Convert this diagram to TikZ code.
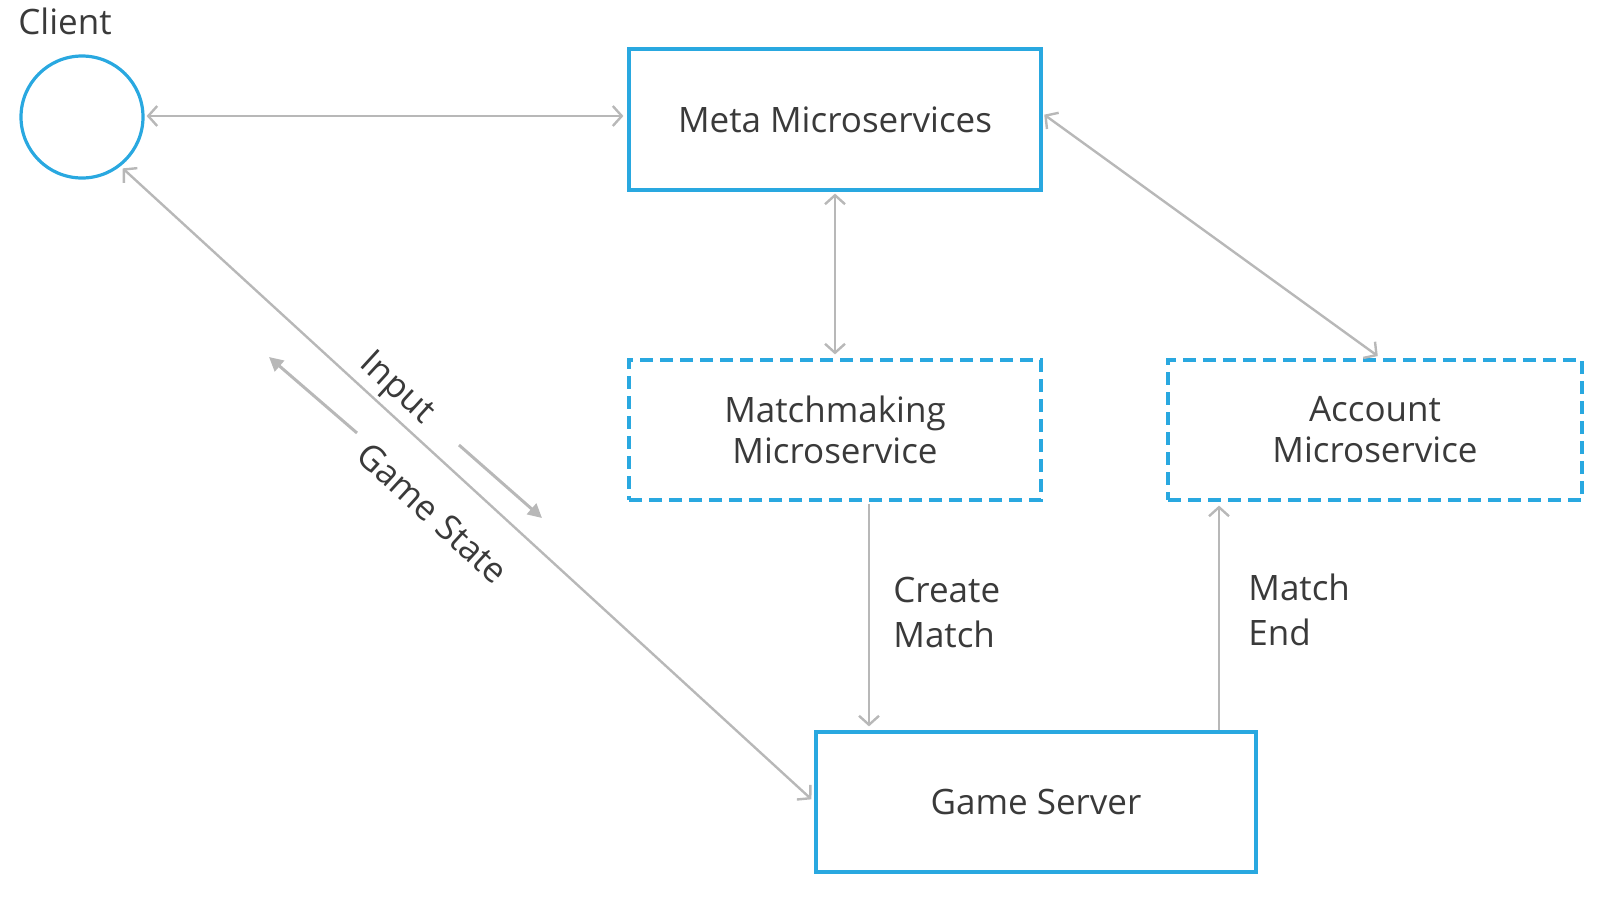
\documentclass[tikz,border=0pt]{standalone}
\usepackage{fontspec}
\setmainfont{Open Sans}
\usetikzlibrary{arrows.meta,calc}
\definecolor{boxblue}{HTML}{29A8E0}
\definecolor{arrowgray}{HTML}{B8B8B8}
\definecolor{txt}{HTML}{3A3A3A}
\tikzset{
  solidbox/.style={draw=boxblue, line width=1.6pt, rectangle, inner sep=0pt, align=center, text=txt, font=\fontsize{17.5}{20.5}\selectfont},
  dashbox/.style={solidbox, dash pattern=on 6.5pt off 3.5pt},
  clientnode/.style={draw=boxblue, line width=1.6pt, circle, minimum size=61pt, inner sep=0pt},
  conn/.style={draw=arrowgray, line width=1.2pt, {Straight Barb[length=4.5pt,width=10pt]}-{Straight Barb[length=4.5pt,width=10pt]}},
  oneway/.style={draw=arrowgray, line width=1.2pt, -{Straight Barb[length=4.5pt,width=10pt]}},
  smallarrow/.style={draw=arrowgray, line width=1.5pt, -{Triangle[length=7pt,width=7pt]}},
  lbl/.style={text=txt, font=\fontsize{17.5}{22.5}\selectfont, align=left, inner sep=0pt},
}
\begin{document}
\begin{tikzpicture}[x=0.5pt,y=-0.5pt]
\useasboundingbox (0,0) rectangle (1600,900);
\node[clientnode] (cl) at (82,117) {};
\node[lbl, anchor=south west] (cltxt) at (18,35) {Client};
\node[solidbox, minimum width=206pt, minimum height=70.5pt] (meta) at (835,119.5) {Meta Microservices};
\node[dashbox, minimum width=206pt, minimum height=70pt] (mm) at (835,430) {Matchmaking\\Microservice};
\node[dashbox, minimum width=207pt, minimum height=70pt] (acc) at (1375,430) {Account\\Microservice};
\node[solidbox, minimum width=220pt, minimum height=70pt] (gs) at (1036,802) {Game Server};

\draw[conn, shorten <=1pt, shorten >=2pt] (cl.east |- 0,116) -- (meta.west |- 0,116);
\draw[conn, shorten <=1pt, shorten >=2pt] (meta.south) -- (mm.north);
\draw[conn, shorten <=1pt, shorten >=2pt] ([yshift=3pt]meta.east) -- ([xshift=3pt]acc.north);
\draw[conn, shorten <=1.5pt, shorten >=2pt] (cl.-52) -- (gs.west);
\draw[oneway, shorten <=1pt, shorten >=2pt] ([xshift=17pt]mm.south) -- ([xshift=17pt]mm.south |- gs.north);
\draw[oneway, shorten <=0pt, shorten >=2pt] ([xshift=-78pt]acc.south |- gs.north) -- ([xshift=-78pt]acc.south);

\node[lbl, anchor=north west] (cm) at (893,577) {Create\\Match};
\node[lbl, anchor=north west] (me) at (1248,573) {Match\\End};

\node[lbl, rotate=-42.5] (inp) at (396,389) {Input};
\node[lbl, rotate=-42.5] (gst) at (433,513) {Game State};
\coordinate (ia) at (459,445);
\coordinate (ib) at (542,518);
\coordinate (ga) at (357,433);
\coordinate (gb) at (269,357);
\draw[smallarrow] (ia) -- (ib);
\draw[smallarrow] (ga) -- (gb);
\end{tikzpicture}
\end{document}
